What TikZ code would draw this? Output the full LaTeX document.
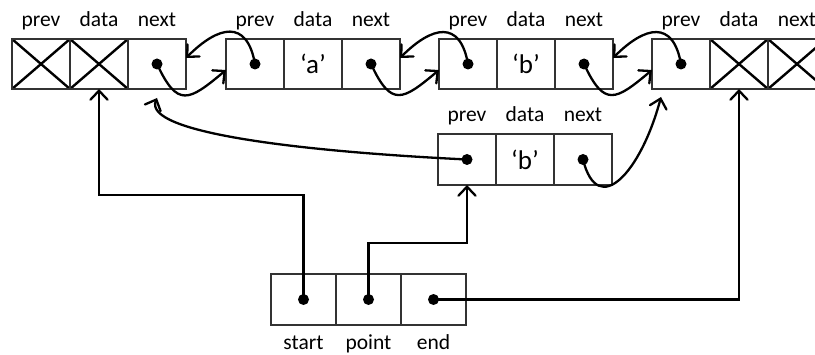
\documentclass[tikz,border=0pt]{standalone}
\usepackage{fontspec}
\setmainfont{Carlito}
\usetikzlibrary{arrows.meta}

\tikzset{
  cell/.style={draw=black!80, line width=1.1pt, minimum width=58pt, minimum height=50pt, inner sep=0pt, outer sep=0pt, font=\fontsize{27}{30}\selectfont},
  bcell/.style={cell, minimum width=65pt, minimum height=51pt},
  crossed/.style={cell, path picture={\draw[black, line width=2.4pt] (path picture bounding box.north west) -- (path picture bounding box.south east) (path picture bounding box.south west) -- (path picture bounding box.north east);}},
  lbl/.style={anchor=base, font=\fontsize{21.5}{25}\selectfont},
  ptr/.style={line width=2.3pt, -{Straight Barb[length=9pt,width=17pt,line cap=round]}}
}

\begin{document}
\begin{tikzpicture}[x=1pt,y=1pt]
\useasboundingbox (0,0) rectangle (815,354);
\node[crossed] (a1) at (41,290) {};
\node[crossed] (a2) at (99,290) {};
\node[cell] (a3) at (157,290) {};
\node[cell] (b1) at (255,290) {};
\node[cell] (b2) at (313,290) {‘a’};
\node[cell] (b3) at (371,290) {};
\node[cell] (c1) at (468,290) {};
\node[cell] (c2) at (526,290) {‘b’};
\node[cell] (c3) at (584,290) {};
\node[cell] (d1) at (681,290) {};
\node[crossed] (d2) at (739,290) {};
\node[crossed] (d3) at (797,290) {};
\node[cell,minimum height=51pt] (m1) at (467,194.5) {};
\node[cell,minimum height=51pt] (m2) at (525,194.5) {‘b’};
\node[cell,minimum height=51pt] (m3) at (583,194.5) {};
\node[bcell] (s1) at (303.5,54.5) {};
\node[bcell] (s2) at (368.5,54.5) {};
\node[bcell] (s3) at (433.5,54.5) {};

\node[lbl] (la1) at (41,327) {prev};
\node[lbl] (la2) at (99,327) {data};
\node[lbl] (la3) at (157,327) {next};
\node[lbl] (lb1) at (255,327) {prev};
\node[lbl] (lb2) at (313,327) {data};
\node[lbl] (lb3) at (371,327) {next};
\node[lbl] (lc1) at (468,327) {prev};
\node[lbl] (lc2) at (526,327) {data};
\node[lbl] (lc3) at (584,327) {next};
\node[lbl] (ld1) at (681,327) {prev};
\node[lbl] (ld2) at (739,327) {data};
\node[lbl] (ld3) at (797,327) {next};
\node[lbl] (lm1) at (467,232) {prev};
\node[lbl] (lm2) at (525,232) {data};
\node[lbl] (lm3) at (583,232) {next};
\node[lbl] (ls1) at (303.5,5) {start};
\node[lbl] (ls2) at (368.5,5) {point};
\node[lbl] (ls3) at (433.5,5) {end};

\draw[ptr] (a3.center) to[out=-65,in=-140,looseness=1.8] ([yshift=-6pt]b1.west);
\draw[ptr] (b1.center) to[out=100,in=45,looseness=1.7] ([yshift=6pt]a3.east);
\draw[ptr] (b3.center) to[out=-65,in=-140,looseness=1.8] ([yshift=-6pt]c1.west);
\draw[ptr] (c1.center) to[out=100,in=45,looseness=1.7] ([yshift=6pt]b3.east);
\draw[ptr] (c3.center) to[out=-65,in=-140,looseness=1.8] ([yshift=-6pt]d1.west);
\draw[ptr] (d1.center) to[out=100,in=45,looseness=1.7] ([yshift=6pt]c3.east);
\draw[ptr] (m1.center) .. controls +(-165,8) and +(-15,-35) .. ([yshift=-9pt]a3.south);
\draw[ptr] (m3.center) .. controls +(15,-60) and +(-20,-75) .. ([shift={(9pt,-8pt)}]d1.south west);
\draw[ptr] (s1.center) -- ++(0,104.5) -| (a2.south);
\draw[ptr] (s2.center) -- ++(0,56.5) -| (m1.south);
\draw[ptr] (s3.center) -| (d2.south);

\fill (a3.center) circle (5.5) (b1.center) circle (5.5) (b3.center) circle (5.5)
      (c1.center) circle (5.5) (c3.center) circle (5.5) (d1.center) circle (5.5)
      (m1.center) circle (5.5) (m3.center) circle (5.5)
      (s1.center) circle (5.5) (s2.center) circle (5.5) (s3.center) circle (5.5);
\end{tikzpicture}
\end{document}
